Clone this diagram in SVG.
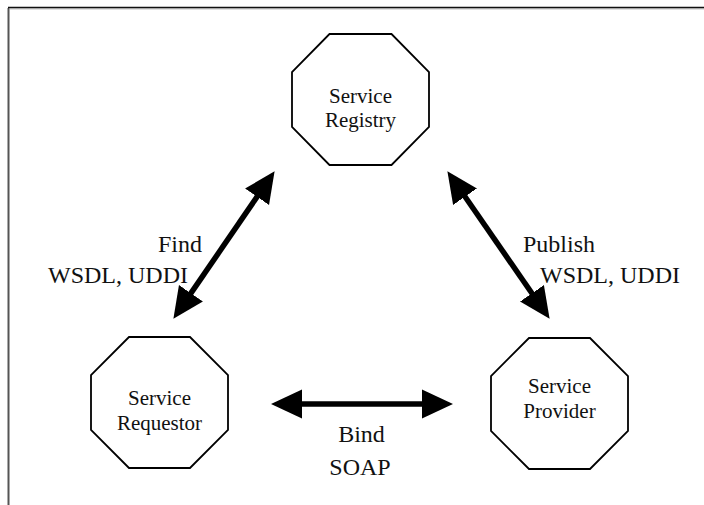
<svg xmlns="http://www.w3.org/2000/svg" width="704" height="505" viewBox="0 0 704 505">
<style>
.oct{fill:#fff;stroke:#000;stroke-width:1.8}
.nt{font-family:"Liberation Serif","Times New Roman",serif;font-size:21px;fill:#111;text-anchor:middle}
.lb{font-family:"Liberation Serif","Times New Roman",serif;font-size:24px;fill:#111}
.arr{stroke:#000;stroke-width:5.5;fill:none;marker-start:url(#ah);marker-end:url(#ah)}
</style>
<defs>
<marker id="ah" markerUnits="userSpaceOnUse" markerWidth="33" markerHeight="32" viewBox="0 -16 33 32" refX="2" refY="0" orient="auto-start-reverse">
<path d="M0,-14.5 L31,0 L0,14.5 Z" fill="#000"/>
</marker>
</defs>
<rect width="704" height="505" fill="#fff"/>
<g id="frame">
<line x1="8.5" y1="8" x2="8.5" y2="505" stroke="#555" stroke-width="2"/>
<line x1="8" y1="7.5" x2="704" y2="7.5" stroke="#111" stroke-width="1.5"/>
<line x1="9.5" y1="8.8" x2="704" y2="8.8" stroke="#999" stroke-width="1"/>
</g>
<g id="registry">
<polygon class="oct" points="329.5,34 391.5,34 429,72 429,127 391.5,165 329.5,165 292,127 292,72"/>
<text class="nt" x="360.5" y="103">Service</text>
<text class="nt" x="360.5" y="127">Registry</text>
</g>
<g id="requestor">
<polygon class="oct" points="129,337 190,337 228,375 228,430 190,468 129,468 91,430 91,375"/>
<text class="nt" x="159.5" y="405">Service</text>
<text class="nt" x="159.5" y="430">Requestor</text>
</g>
<g id="provider">
<polygon class="oct" points="529,338 590,338 628,376 628,431 590,469 529,469 491,431 491,376"/>
<text class="nt" x="559.5" y="393">Service</text>
<text class="nt" x="559.5" y="418">Provider</text>
</g>
<g id="connectors">
<line class="arr" x1="189.8" y1="294.9" x2="258.2" y2="195.1"/>
<line class="arr" x1="463.9" y1="195" x2="533.1" y2="295"/>
<line class="arr" x1="300" y1="404" x2="424" y2="404"/>
</g>
<g id="labels">
<text class="lb" x="158" y="252">Find</text>
<text class="lb" x="48" y="283">WSDL, UDDI</text>
<text class="lb" x="523" y="252">Publish</text>
<text class="lb" x="540" y="283">WSDL, UDDI</text>
<text class="lb" x="361.5" y="442" text-anchor="middle">Bind</text>
<text class="lb" x="360" y="475" text-anchor="middle">SOAP</text>
</g>
</svg>
